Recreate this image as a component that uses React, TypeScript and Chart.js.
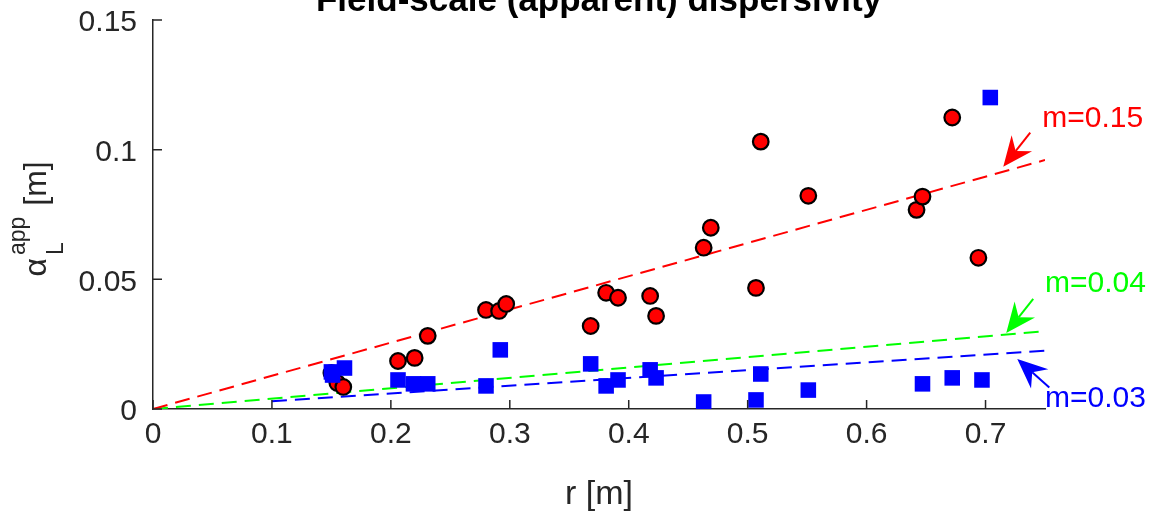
import { useEffect, useRef } from "react";
import { Chart, registerables } from "chart.js";

Chart.register(...registerables);

// ---- data ----
const xTicks = [0, 0.1, 0.2, 0.3, 0.4, 0.5, 0.6, 0.7];
const xTickLabels = ["0", "0.1", "0.2", "0.3", "0.4", "0.5", "0.6", "0.7"];
const yTicks = [0, 0.05, 0.1, 0.15];
const yTickLabels = ["0", "0.05", "0.1", "0.15"];

const redR = [0.150, 0.155, 0.160, 0.206, 0.220, 0.231, 0.280, 0.291, 0.297, 0.368, 0.381, 0.391, 0.418, 0.423, 0.463, 0.469, 0.507, 0.511, 0.551, 0.642, 0.647, 0.672, 0.694];
const redA = [0.0139, 0.0100, 0.0085, 0.0185, 0.0197, 0.0282, 0.0382, 0.0378, 0.0405, 0.0320, 0.0448, 0.0429, 0.0436, 0.0359, 0.0622, 0.0699, 0.0467, 0.1031, 0.0822, 0.0768, 0.0819, 0.1124, 0.0583];

const blueR = [0.150, 0.151, 0.161, 0.206, 0.219, 0.231, 0.280, 0.292, 0.368, 0.381, 0.391, 0.418, 0.423, 0.463, 0.507, 0.511, 0.551, 0.647, 0.672, 0.697, 0.704];
const blueA = [0.0143, 0.0131, 0.0158, 0.0112, 0.0097, 0.0097, 0.0089, 0.0228, 0.0174, 0.0089, 0.0112, 0.0151, 0.0120, 0.0027, 0.0035, 0.0135, 0.0073, 0.0097, 0.0120, 0.0112, 0.1201];

const redLineR = [0, 0.75];
const redLineA = [0, 0.096];
const greenLineR = [0, 0.75];
const greenLineA = [0, 0.030];
const blueLineR = [0.1, 0.75];
const blueLineA = [0.003, 0.0225];

const annTexts = ["m=0.15", "m=0.04", "m=0.03"];
const annColors = ["#ff0000", "#00ff00", "#0000ff"];
const annTextR = [0.7477, 0.750, 0.750];
const annTextA = [0.1089, 0.0452, 0.0009];
const arrowTailR = [0.7376, 0.7401, 0.7536];
const arrowTailA = [0.1066, 0.0425, 0.0083];
const arrowTipR = [0.7149, 0.7174, 0.7267];
const arrowTipA = [0.0934, 0.0293, 0.0193];

const titleText = "Field-scale (apparent) dispersivity";
const xLabel = "r [m]";

const FONT = '"Liberation Sans", Arial, Helvetica, sans-serif';
const AXIS = "#262626";

const pts = (xs: number[], ys: number[]) => xs.map((v, i) => ({ x: v, y: ys[i] }));

function drawArrow(ctx: CanvasRenderingContext2D, tx: number, ty: number, hx: number, hy: number, color: string) {
  const dx = tx - hx, dy = ty - hy;
  const len = Math.hypot(dx, dy);
  const ux = dx / len, uy = dy / len;
  const nx = -uy, ny = ux;
  const L = 30, W = 13, N = 20;
  ctx.strokeStyle = color;
  ctx.lineWidth = 2;
  ctx.beginPath();
  ctx.moveTo(tx, ty);
  ctx.lineTo(hx + ux * N, hy + uy * N);
  ctx.stroke();
  ctx.fillStyle = color;
  ctx.beginPath();
  ctx.moveTo(hx, hy);
  ctx.lineTo(hx + ux * L + nx * W, hy + uy * L + ny * W);
  ctx.lineTo(hx + ux * N, hy + uy * N);
  ctx.lineTo(hx + ux * L - nx * W, hy + uy * L - ny * W);
  ctx.closePath();
  ctx.fill();
}

const overlay = {
  id: "matlabOverlay",
  afterDraw(chart: any) {
    const { ctx, chartArea } = chart;
    const xs = chart.scales.x;
    const ys = chart.scales.y;
    ctx.save();
    // inward ticks
    ctx.strokeStyle = AXIS;
    ctx.lineWidth = 1.5;
    ctx.beginPath();
    xTicks.forEach((v) => {
      const px = xs.getPixelForValue(v);
      ctx.moveTo(px, chartArea.bottom);
      ctx.lineTo(px, chartArea.bottom - 9);
    });
    yTicks.forEach((v) => {
      const py = ys.getPixelForValue(v);
      ctx.moveTo(chartArea.left, py);
      ctx.lineTo(chartArea.left + 9, py);
    });
    ctx.stroke();

    const cx = (chartArea.left + chartArea.right) / 2;
    // title
    ctx.fillStyle = "#000000";
    ctx.font = `bold 35px ${FONT}`;
    ctx.textAlign = "center";
    ctx.textBaseline = "alphabetic";
    ctx.fillText(titleText, cx, chartArea.top - 9);

    // x label
    ctx.fillStyle = AXIS;
    ctx.font = `34px ${FONT}`;
    ctx.fillText(xLabel, cx, chartArea.bottom + 95);

    // y label (rotated, with sub/superscript)
    ctx.save();
    const cy = (chartArea.top + chartArea.bottom) / 2;
    ctx.translate(chartArea.left - 107, cy + 62);
    ctx.rotate(-Math.PI / 2);
    ctx.textAlign = "left";
    ctx.font = `32px ${FONT}`;
    ctx.fillText("\u03b1", 0, 0);
    const wa = ctx.measureText("\u03b1").width;
    ctx.font = `23px ${FONT}`;
    ctx.fillText("L", wa + 3, 17);
    ctx.fillText("app", wa + 3, -21);
    const ws = Math.max(ctx.measureText("L").width, ctx.measureText("app").width);
    ctx.font = `32px ${FONT}`;
    ctx.fillText(" [m]", wa + 3 + ws + 2, 0);
    ctx.restore();

    // annotations
    for (let i = 0; i < annTexts.length; i++) {
      drawArrow(
        ctx,
        xs.getPixelForValue(arrowTailR[i]),
        ys.getPixelForValue(arrowTailA[i]),
        xs.getPixelForValue(arrowTipR[i]),
        ys.getPixelForValue(arrowTipA[i]),
        annColors[i]
      );
      ctx.fillStyle = annColors[i];
      ctx.font = `30px ${FONT}`;
      ctx.textAlign = "left";
      ctx.textBaseline = "alphabetic";
      ctx.fillText(annTexts[i], xs.getPixelForValue(annTextR[i]), ys.getPixelForValue(annTextA[i]));
    }
    ctx.restore();
  },
};

export default function App() {
  const ref = useRef<HTMLCanvasElement>(null);
  useEffect(() => {
    if (!ref.current) return;
    const lineDs = (xs: number[], ys: number[], color: string) => ({
      type: "line" as const,
      data: pts(xs, ys),
      borderColor: color,
      backgroundColor: color,
      borderWidth: 2,
      borderDash: [15, 8],
      pointRadius: 0,
      showLine: true,
      fill: false,
      order: 3,
    });
    const zeroPad = (s: any) => { s.paddingTop = 0; s.paddingBottom = 0; s.paddingLeft = 0; s.paddingRight = 0; };
    const chart = new Chart(ref.current, {
      type: "scatter",
      data: {
        datasets: [
          {
            data: pts(blueR, blueA),
            pointStyle: "rect",
            pointRadius: 11,
            backgroundColor: "#0000ff",
            borderColor: "#0000ff",
            borderWidth: 0,
            order: 1,
          } as any,
          {
            data: pts(redR, redA),
            pointStyle: "circle",
            pointRadius: 7.8,
            backgroundColor: "#ff0000",
            borderColor: "#000000",
            borderWidth: 2.2,
            order: 2,
          } as any,
          lineDs(redLineR, redLineA, "#ff0000"),
          lineDs(greenLineR, greenLineA, "#00ff00"),
          lineDs(blueLineR, blueLineA, "#0000ff"),
        ],
      },
      options: {
        animation: false,
        responsive: false,
        events: [],
        layout: { autoPadding: false, padding: { top: 20, right: 107, left: 0, bottom: 0 } },
        plugins: { legend: { display: false }, tooltip: { enabled: false }, title: { display: false } },
        scales: {
          x: {
            type: "linear",
            min: 0,
            max: 0.75,
            grid: { display: false, drawTicks: false },
            border: { display: true, color: AXIS, width: 1.5 },
            afterFit: (s: any) => { s.height = 104; zeroPad(s); },
            afterBuildTicks: (s: any) => { s.ticks = xTicks.map((v) => ({ value: v })); },
            ticks: {
              padding: 8,
              color: AXIS,
              font: { family: FONT, size: 30 },
              maxRotation: 0,
              autoSkip: false,
              callback: (v: any) => { const i = xTicks.indexOf(Number(v)); return i >= 0 ? xTickLabels[i] : ""; },
            },
          },
          y: {
            type: "linear",
            min: 0,
            max: 0.15,
            grid: { display: false, drawTicks: false },
            border: { display: true, color: AXIS, width: 1.5 },
            afterFit: (s: any) => { s.width = 153; zeroPad(s); },
            afterBuildTicks: (s: any) => { s.ticks = yTicks.map((v) => ({ value: v })); },
            ticks: {
              padding: 16,
              labelOffset: 3,
              color: AXIS,
              font: { family: FONT, size: 30 },
              autoSkip: false,
              callback: (v: any) => { const i = yTicks.indexOf(Number(v)); return i >= 0 ? yTickLabels[i] : ""; },
            },
          },
        },
      } as any,
      plugins: [overlay],
    });
    return () => chart.destroy();
  }, []);
  return (
    <div style={{ position: "absolute", left: 0, top: 0, width: 1152, height: 513, background: "#ffffff" }}>
      <canvas ref={ref} width={1152} height={513} style={{ display: "block" }} />
    </div>
  );
}
